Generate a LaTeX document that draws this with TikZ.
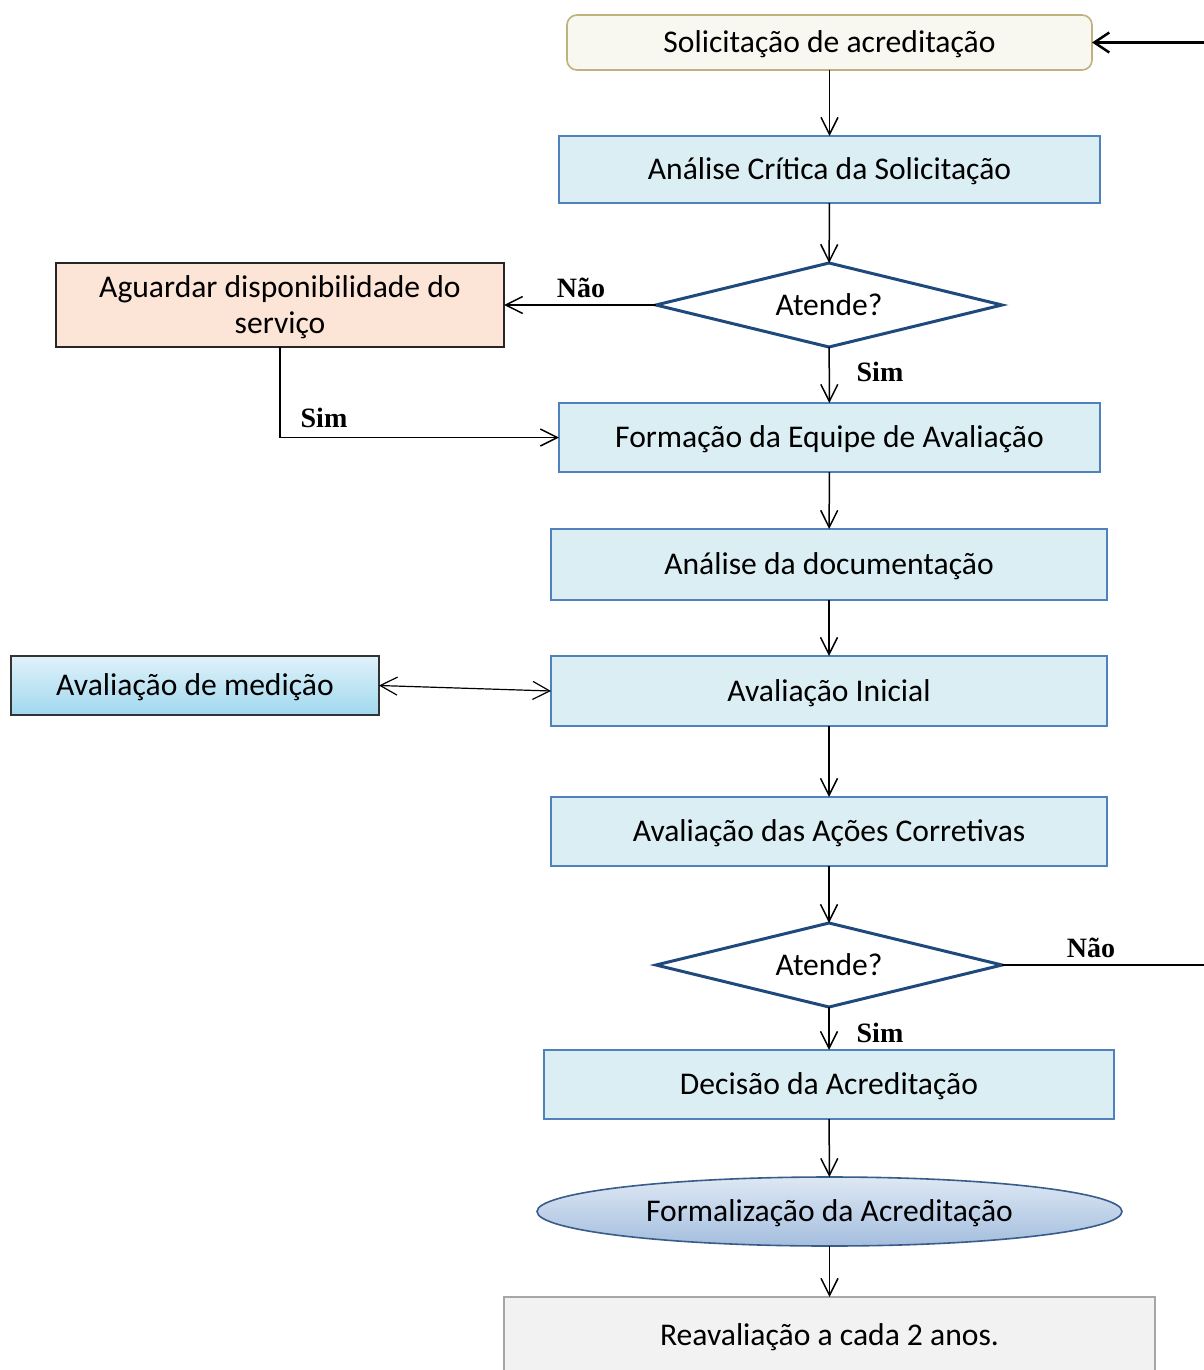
\documentclass[tikz,border=0pt]{standalone}
\usepackage{fontspec}
\setmainfont{Carlito}
\newfontfamily\lblfont{Liberation Serif}
\usetikzlibrary{arrows.meta,shapes.geometric}

\definecolor{boxfill}{RGB}{219,238,244}
\definecolor{boxline}{RGB}{79,129,189}
\definecolor{dmdline}{RGB}{31,73,125}
\definecolor{startfill}{RGB}{248,247,240}
\definecolor{startline}{RGB}{191,178,127}
\definecolor{waitfill}{RGB}{252,228,214}
\definecolor{medtop}{RGB}{224,242,250}
\definecolor{medbot}{RGB}{160,216,238}
\definecolor{elltop}{RGB}{222,232,244}
\definecolor{ellbot}{RGB}{164,190,222}
\definecolor{ellline}{RGB}{56,93,138}
\definecolor{endfill}{RGB}{242,242,242}
\definecolor{endline}{RGB}{166,166,166}

\tikzset{
  every node/.style={inner sep=0pt, outer sep=0pt, font=\fontsize{15.8}{18}\selectfont},
  % fixed line box so every caption sits on the same baseline offset
  boxtext/.style={text height=13.27pt, text depth=3.16pt},
  procbox/.style={rectangle, boxtext, draw=boxline, fill=boxfill, line width=0.6pt},
  decision/.style={diamond, boxtext, aspect=4.1, draw=dmdline, fill=white, line width=1.5pt,
    minimum width=173pt, minimum height=42pt},
  lbl/.style={font=\lblfont\bfseries\fontsize{14}{16}\selectfont},
  flow/.style={line width=0.75pt, -{Straight Barb[length=8.5pt,width=8.5pt]}},
  biflow/.style={line width=0.6pt, {Straight Barb[length=8.5pt,width=9pt]}-{Straight Barb[length=8.5pt,width=9pt]}},
  backflow/.style={line width=1.25pt, -{Straight Barb[length=7.5pt,width=10pt]}},
}

\begin{document}
\begin{tikzpicture}[x=0.5pt, y=-0.5pt]
  \useasboundingbox (0,0) rectangle (1204,1370);
  \clip (0,0) rectangle (1204,1370);
  \fill[white] (0,0) rectangle (1204,1370);

  % main column
  \node[rectangle, boxtext, rounded corners=5pt, draw=startline, fill=startfill, line width=0.8pt,
        minimum width=262.5pt, minimum height=27.5pt] (sol) at (829.5,42.5) {Solicitação de acreditação};
  \node[procbox, minimum width=270.5pt, minimum height=33.5pt] (crit) at (829.5,169.5) {Análise Crítica da Solicitação};
  \node[decision] (dec1) at (829,305) {Atende?};
  \node[rectangle, text height=31.27pt, text depth=3.16pt, draw=black!85, fill=waitfill, line width=0.75pt, align=center,
        minimum width=224pt, minimum height=42pt] (wait) at (280,305) {Aguardar disponibilidade do\\serviço};
  \node[procbox, minimum width=270.5pt, minimum height=34.5pt] (team) at (829.5,437.5) {Formação da Equipe de Avaliação};
  \node[procbox, minimum width=278pt, minimum height=35.5pt] (docs) at (829,564.5) {Análise da documentação};
  \node[rectangle, boxtext, draw=black!80, top color=medtop, bottom color=medbot, line width=0.75pt,
        minimum width=184pt, minimum height=29.5pt] (meas) at (195,685.5) {Avaliação de medição};
  \node[procbox, minimum width=278pt, minimum height=35pt] (init) at (829,691) {Avaliação Inicial};
  \node[procbox, minimum width=278pt, minimum height=34.5pt] (corr) at (829,831.5) {Avaliação das Ações Corretivas};
  \node[decision] (dec2) at (829,965) {Atende?};
  \node[procbox, minimum width=285pt, minimum height=34.5pt] (decis) at (829,1084.5) {Decisão da Acreditação};
  \node[ellipse, boxtext, draw=ellline, top color=elltop, bottom color=ellbot, line width=0.8pt,
        minimum width=292.5pt, minimum height=34.5pt] (formal) at (829.5,1211.5) {Formalização da Acreditação};
  \node[rectangle, boxtext, draw=endline, fill=endfill, line width=0.75pt,
        minimum width=325.5pt, minimum height=38pt] (reav) at (829.5,1335) {Reavaliação a cada 2 anos.};

  % connectors
  \draw[flow] (sol) -- (crit);
  \draw[flow] (crit) -- (dec1);
  \draw[flow] (dec1.west) -- (wait.east);
  \draw[flow] (dec1) -- (team);
  \draw[flow] (wait.south) |- (team.west);
  \draw[flow] (team) -- (docs);
  \draw[flow] (docs) -- (init);
  \draw[biflow] (meas.east) -- (init.west);
  \draw[flow] (init) -- (corr);
  \draw[flow] (corr) -- (dec2);
  \draw[flow] (dec2) -- (decis);
  \draw[flow] (decis) -- (formal);
  \draw[flow] (formal) -- (reav);

  % return loop running along the right margin
  \coordinate (loopB) at (1230,965);
  \coordinate (loopT) at (1230,42.5);
  \draw[backflow] (dec2.east) -- (loopB) -- (loopT) -- (sol.east);

  % branch labels
  \node[lbl] at (581,288) {Não};
  \node[lbl] at (880,372) {Sim};
  \node[lbl] at (324,418) {Sim};
  \node[lbl] at (880,1033) {Sim};
  \node[lbl] at (1091,948) {Não};
\end{tikzpicture}
\end{document}
